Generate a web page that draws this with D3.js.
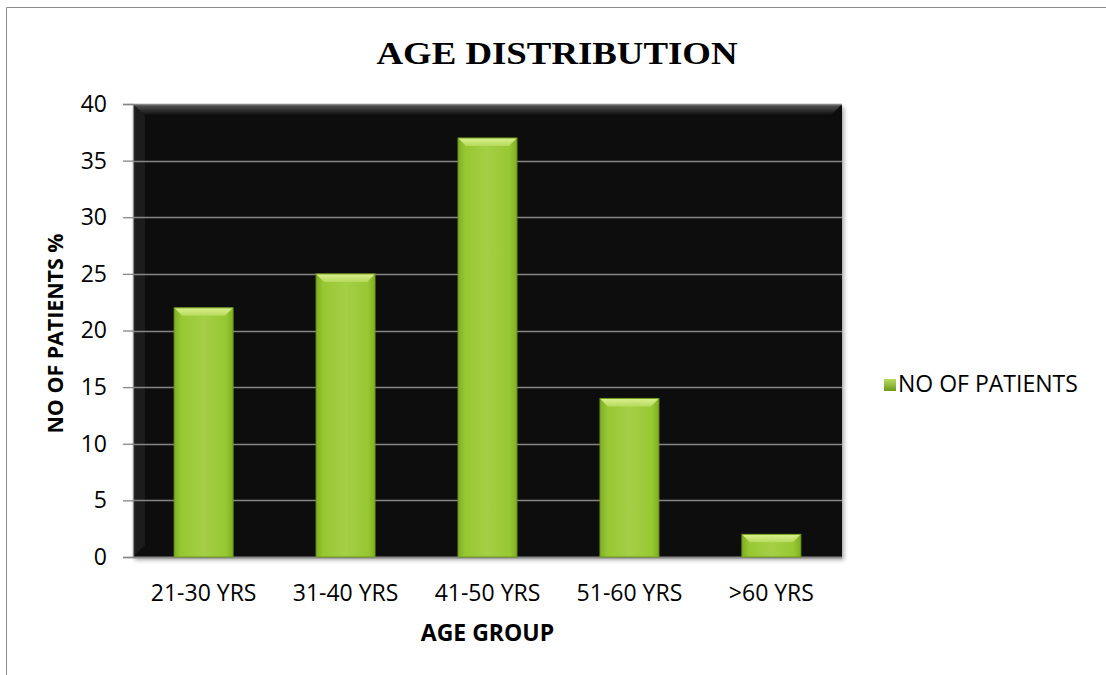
<!DOCTYPE html>
<html>
<head>
<meta charset="utf-8">
<script src="https://cdn.jsdelivr.net/npm/d3@7"></script>
<style>
  body { margin: 0; background: #fff; }
  svg { display: block; }
</style>
</head>
<body>
<div id="chart"></div>
<script>
// data
const ageGroups = ["21-30 YRS", "31-40 YRS", "41-50 YRS", "51-60 YRS", ">60 YRS"];
const patients = [22, 25, 37, 14, 2];
const yTicks = [0, 5, 10, 15, 20, 25, 30, 35, 40];
const seriesName = "NO OF PATIENTS";

const W = 1106, H = 675;
const margin = { top: 104, right: 264, bottom: 118, left: 133 };
const width = W - margin.left - margin.right;
const height = H - margin.top - margin.bottom;
const font = "Open Sans, Noto Sans, sans-serif";

const svg = d3.select("#chart").append("svg")
  .attr("width", W)
  .attr("height", H);

const defs = svg.append("defs");

// bar gradient (horizontal, light centre)
const barGrad = defs.append("linearGradient").attr("id", "barGrad")
  .attr("x1", "0%").attr("x2", "100%").attr("y1", "0%").attr("y2", "0%");
barGrad.append("stop").attr("offset", "0%").attr("stop-color", "#80af22");
barGrad.append("stop").attr("offset", "12%").attr("stop-color", "#97c732");
barGrad.append("stop").attr("offset", "50%").attr("stop-color", "#a5cf46");
barGrad.append("stop").attr("offset", "88%").attr("stop-color", "#97c732");
barGrad.append("stop").attr("offset", "100%").attr("stop-color", "#80af22");

const topGrad = defs.append("linearGradient").attr("id", "topGrad")
  .attr("x1", "0%").attr("x2", "0%").attr("y1", "0%").attr("y2", "100%");
topGrad.append("stop").attr("offset", "0%").attr("stop-color", "#dcf090");
topGrad.append("stop").attr("offset", "100%").attr("stop-color", "#b5da5c");

const plotTop = defs.append("linearGradient").attr("id", "plotTop")
  .attr("x1", "0%").attr("x2", "0%").attr("y1", "0%").attr("y2", "100%");
plotTop.append("stop").attr("offset", "0%").attr("stop-color", "#5a5a5a");
plotTop.append("stop").attr("offset", "100%").attr("stop-color", "#080808");

const legGrad = defs.append("linearGradient").attr("id", "legGrad")
  .attr("x1", "0%").attr("x2", "0%").attr("y1", "0%").attr("y2", "100%");
legGrad.append("stop").attr("offset", "0%").attr("stop-color", "#b8dc60");
legGrad.append("stop").attr("offset", "100%").attr("stop-color", "#6f9a1c");

const shadow = defs.append("filter").attr("id", "shadow")
  .attr("x", "-10%").attr("y", "-10%").attr("width", "130%").attr("height", "130%");
shadow.append("feDropShadow").attr("dx", 2).attr("dy", 3).attr("stdDeviation", 2)
  .attr("flood-color", "#000").attr("flood-opacity", 0.35);

// outer frame (top and left edges visible)
svg.append("line")
  .attr("x1", 6.5).attr("x2", W).attr("y1", 7.5).attr("y2", 7.5)
  .attr("stroke", "#8c8c8c");
svg.append("line")
  .attr("x1", 6.5).attr("x2", 6.5).attr("y1", 7.5).attr("y2", H)
  .attr("stroke", "#8c8c8c");

// title
svg.append("text")
  .attr("x", 557).attr("y", 64)
  .attr("text-anchor", "middle")
  .attr("font-family", "Liberation Serif, Times New Roman, serif")
  .attr("font-weight", "bold")
  .attr("font-size", 32)
  .attr("textLength", 361)
  .attr("lengthAdjust", "spacingAndGlyphs")
  .text("AGE DISTRIBUTION");

const g = svg.append("g")
  .attr("transform", "translate(" + margin.left + "," + margin.top + ")");

const x = d3.scaleBand()
  .domain(ageGroups)
  .range([0, width])
  .paddingInner(0.585)
  .paddingOuter(0.29);

const y = d3.scaleLinear()
  .domain([0, 40])
  .range([height, 0]);

// plot area
g.append("rect")
  .attr("width", width).attr("height", height)
  .attr("fill", "#080808")
  .attr("filter", "url(#shadow)");
// bevels of plot area
g.append("polygon")
  .attr("points", [[0, 0], [width, 0], [width - 12, 12], [12, 12]].map(p => p.join(",")).join(" "))
  .attr("fill", "url(#plotTop)");
g.append("polygon")
  .attr("points", [[0, 0], [12, 12], [12, height - 12], [0, height]].map(p => p.join(",")).join(" "))
  .attr("fill", "#1c1c1c");

// gridlines
g.selectAll(".grid").data(yTicks.filter(d => d > 0))
  .enter().append("line")
  .attr("class", "grid")
  .attr("x1", 0).attr("x2", width)
  .attr("y1", d => Math.round(y(d)) + 0.5)
  .attr("y2", d => Math.round(y(d)) + 0.5)
  .attr("stroke", "#868686").attr("stroke-width", 1.3);

// y axis
const yAxis = d3.axisLeft(y).tickValues(yTicks).tickSize(10).tickPadding(16);
const ya = g.append("g").call(yAxis);
ya.select(".domain").attr("stroke", "#868686").attr("stroke-width", 1.3);
ya.selectAll(".tick line").attr("stroke", "#868686").attr("stroke-width", 1.3);
ya.selectAll(".tick text")
  .attr("font-family", font)
  .attr("font-size", 23).attr("fill", "#000");

// x axis baseline
g.append("line")
  .attr("x1", 0).attr("x2", width)
  .attr("y1", height + 0.5).attr("y2", height + 0.5)
  .attr("stroke", "#8a8a8a").attr("stroke-width", 2);

const xAxis = d3.axisBottom(x).tickSize(0).tickPadding(28);
const xa = g.append("g").attr("transform", "translate(0," + height + ")").call(xAxis);
xa.select(".domain").remove();
xa.selectAll(".tick text")
  .attr("font-family", font)
  .attr("font-size", 23).attr("fill", "#000");

// bars
const bev = 8;
const bars = g.selectAll(".bar").data(patients)
  .enter().append("g").attr("class", "bar");

bars.append("rect")
  .attr("x", (d, i) => x(ageGroups[i]))
  .attr("y", d => y(d))
  .attr("width", x.bandwidth())
  .attr("height", d => height - y(d))
  .attr("fill", "url(#barGrad)");

bars.append("polygon")
  .attr("points", (d, i) => {
    const x0 = x(ageGroups[i]), x1 = x0 + x.bandwidth(), y0 = y(d);
    return [[x0, y0], [x1, y0], [x1 - bev, y0 + bev], [x0 + bev, y0 + bev]].map(p => p.join(",")).join(" ");
  })
  .attr("fill", "url(#topGrad)");

bars.append("rect")
  .attr("x", (d, i) => x(ageGroups[i]))
  .attr("y", d => y(d))
  .attr("width", x.bandwidth())
  .attr("height", d => height - y(d))
  .attr("fill", "none")
  .attr("stroke", "#6e9a1a").attr("stroke-width", 1);

// axis titles
svg.append("text")
  .attr("transform", "translate(63," + (margin.top + height / 2 + 3) + ") rotate(-90)")
  .attr("text-anchor", "middle")
  .attr("font-family", font)
  .attr("font-weight", "bold")
  .attr("font-size", 21)
  .attr("textLength", 200)
  .attr("lengthAdjust", "spacingAndGlyphs")
  .text("NO OF PATIENTS %");

svg.append("text")
  .attr("x", margin.left + width / 2).attr("y", 641)
  .attr("text-anchor", "middle")
  .attr("font-family", font)
  .attr("font-weight", "bold")
  .attr("font-size", 23)
  .text("AGE GROUP");

// legend
const leg = svg.append("g").attr("transform", "translate(884,379)");
leg.append("rect")
  .attr("width", 12).attr("height", 12)
  .attr("fill", "url(#legGrad)");
leg.append("text")
  .attr("x", 14).attr("y", 13)
  .attr("font-family", font)
  .attr("font-size", 23)
  .text(seriesName);
</script>
</body>
</html>
